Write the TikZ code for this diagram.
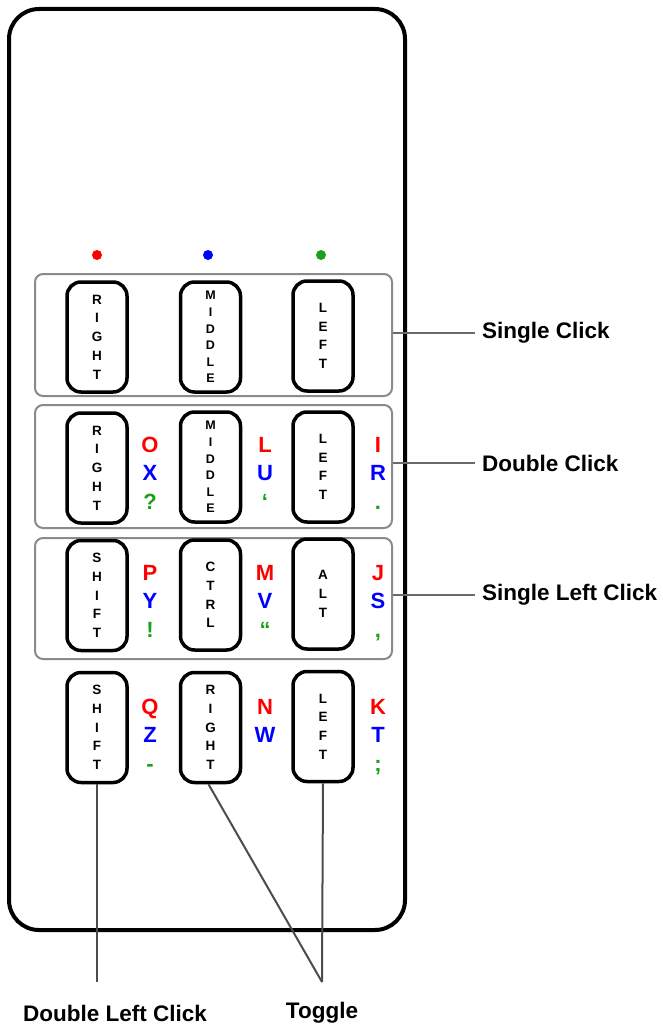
\documentclass[tikz,border=0pt]{standalone}
\usepackage{fontspec}
\setmainfont{Liberation Sans}
\definecolor{cred}{HTML}{FF0000}
\definecolor{cblue}{HTML}{0000FF}
\definecolor{cgreen}{HTML}{1AA01A}
\definecolor{boxgray}{HTML}{8A8A8A}
\definecolor{linegray}{HTML}{6A6A6A}
\newcommand\keystack[6]{%
  \node[lt, text=cred] (#1a) at (#2,#3) {#4};
  \node[lt, text=cblue] (#1b) at (#2,#3+28.5) {#5};
  \node[lt, text=cgreen] (#1c) at (#2,#3+57) {#6};}
\begin{document}
\begin{tikzpicture}[x=1pt,y=-1pt,
  btn/.style={draw, line width=3.5pt, rounded corners=14pt, minimum width=60pt, minimum height=110pt, inner sep=0pt, align=center, fill=white, font=\bfseries\fontsize{13.5}{18.7}\selectfont},
  btnm/.style={btn, font=\bfseries\fontsize{12.5}{16.6}\selectfont},
  grp/.style={draw=boxgray, line width=2pt, rounded corners=8pt, minimum width=357pt, inner sep=0pt},
  lt/.style={anchor=base, inner sep=0pt, font=\bfseries\fontsize{22}{22}\selectfont},
  lab/.style={inner sep=0pt, font=\bfseries\fontsize{22.5}{23}\selectfont},
  conn/.style={draw=linegray, line width=2pt},
  dot/.style={circle, inner sep=0pt, minimum size=10pt}]
\useasboundingbox (0,0) rectangle (663,1025);
% body
\draw[line width=4pt, rounded corners=30pt] (9,9) rectangle (405,930);
% dots
\node[dot, fill=cred] (d1) at (97,255) {};
\node[dot, fill=cblue] (d2) at (208,255) {};
\node[dot, fill=cgreen] (d3) at (321,255) {};
% groups
\node[grp, minimum height=122pt] (g1) at (213.5,335) {};
\node[grp, minimum height=123pt] (g2) at (213.5,466.5) {};
\node[grp, minimum height=121pt] (g3) at (213.5,598.5) {};
% buttons row 1
\node[btn] (b11) at (97,337) {R\\I\\G\\H\\T};
\node[btnm] (b12) at (210.5,337) {M\\I\\D\\D\\L\\E};
\node[btn] (b13) at (323,336) {L\\E\\F\\T};
% row 2
\node[btn] (b21) at (97,468) {R\\I\\G\\H\\T};
\node[btnm] (b22) at (210.5,467) {M\\I\\D\\D\\L\\E};
\node[btn] (b23) at (323,467) {L\\E\\F\\T};
% row 3
\node[btn] (b31) at (97,595.5) {S\\H\\I\\F\\T};
\node[btn] (b32) at (210.5,595) {C\\T\\R\\L};
\node[btn] (b33) at (323,594) {A\\L\\T};
% row 4
\node[btn] (b41) at (97,727.5) {S\\H\\I\\F\\T};
\node[btn] (b42) at (210.5,727.5) {R\\I\\G\\H\\T};
\node[btn] (b43) at (323,726.5) {L\\E\\F\\T};
% letters
\keystack{k21}{150}{452}{O}{X}{?}
\keystack{k22}{265}{452}{L}{U}{‘}
\keystack{k23}{378}{452}{I}{R}{.}
\keystack{k31}{150}{580}{P}{Y}{!}
\keystack{k32}{265}{580}{M}{V}{“}
\keystack{k33}{378}{580}{J}{S}{,}
\keystack{k41}{150}{714}{Q}{Z}{-}
\node[lt, text=cred] (k42a) at (265,714) {N};
\node[lt, text=cblue] (k42b) at (265,742.5) {W};
\keystack{k43}{378}{714}{K}{T}{;}
% right labels
\node[lab, anchor=west] (l1) at (482,333) {Single Click};
\node[lab, anchor=west] (l2) at (482,463) {Double Click};
\node[lab, anchor=west] (l3) at (482,595) {Single Left Click};
\draw[conn] (g1.east |- l1.west) -- ([xshift=-7pt]l1.west);
\draw[conn] (g2.east |- l2.west) -- ([xshift=-7pt]l2.west);
\draw[conn] (g3.east |- l3.west) -- ([xshift=-7pt]l3.west);
% bottom labels
\coordinate (e1) at (97,982);
\coordinate (e2) at (322,982);
\node[lab] (l4) at (115,1013) {Double Left Click};
\node[lab] (l5) at (322,1013) {Toggle};
\draw[conn, draw=black!70] (b41.south) -- (e1);
\draw[conn, draw=black!70] ([xshift=-2pt]b42.south) -- (e2);
\draw[conn, draw=black!70] (b43.south) -- (e2);
\end{tikzpicture}
\end{document}
